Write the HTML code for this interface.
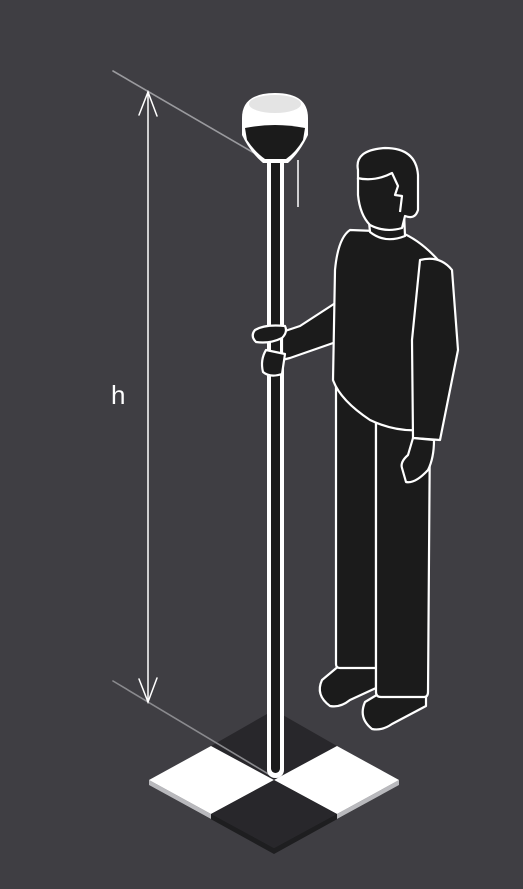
<!DOCTYPE html>
<html><head><meta charset="utf-8"><style>
html,body{margin:0;padding:0;background:#3f3e43;}
svg{display:block}
</style></head><body>
<svg width="523" height="889" viewBox="0 0 523 889" xmlns="http://www.w3.org/2000/svg">
<rect width="523" height="889" fill="#3f3e43"/>
<!-- base checker -->
<g>
<polygon points="149,780 274,848 399,780 399,785 274,854 149,785" fill="#1e1e20"/>
<polygon points="149,780 211,814 211,819 149,785" fill="#b9b9bd"/>
<polygon points="337,814 399,780 399,785 337,819" fill="#b9b9bd"/>
<polygon points="274,710 337,746 274,780 211,746" fill="#28272b"/>
<polygon points="211,746 274,780 211,814 149,780" fill="#ffffff"/>
<polygon points="337,746 399,780 337,814 274,780" fill="#ffffff"/>
<polygon points="274,780 337,814 274,848 211,814" fill="#28272b"/>
</g>
<!-- dimension -->
<g stroke-linecap="round">
<line x1="113" y1="71" x2="266" y2="160" stroke="#9a9a9e" stroke-width="1.6"/>
<line x1="113" y1="681" x2="270" y2="775" stroke="#8a8a8e" stroke-width="1.6"/>
<line x1="148" y1="92" x2="148" y2="702" stroke="#fff" stroke-width="1.5"/>
<polyline points="139,115 148,92 157,116" fill="none" stroke="#fff" stroke-width="1.5"/>
<polyline points="139,679 148,702 157,678" fill="none" stroke="#fff" stroke-width="1.5"/>
</g>
<text x="111" y="404" fill="#fff" font-family="Liberation Sans, sans-serif" font-size="26">h</text>
<!-- pole -->
<g>
<rect x="267" y="150" width="17" height="628" rx="8" fill="#fff"/>
<rect x="271" y="155" width="9" height="618" rx="4.5" fill="#1b1b1b"/>
<line x1="298" y1="160" x2="298" y2="207" stroke="#fff" stroke-width="1.5"/>
</g>
<!-- antenna -->
<g>
<path d="M242,118 Q242,93 275,93 Q308,93 308,118 L308,135 Q300,152 288,163 L263,163 Q250,152 242,135 Z" fill="#fff"/>
<path d="M245,128 Q275,122 305,128 L303,140 Q296,152 286,159 L265,159 Q255,152 247,140 Z" fill="#1b1b1b"/>
<ellipse cx="275" cy="104" rx="26" ry="9" fill="#e4e4e4"/>
</g>
<!-- person -->
<g fill="#1b1b1b" stroke="#fff" stroke-width="2.2" stroke-linejoin="round">
<path d="M340,665 L322,680 Q315,695 330,706 Q340,708 350,700 L376,688 L376,665 Z"/>
<path d="M385,690 L365,702 Q358,718 372,729 Q382,731 392,724 L426,706 L426,690 Z"/>
<path d="M336,380 L336,664 Q336,668 340,668 L376,668 L376,400 Z"/>
<path d="M376,400 L376,692 Q376,697 381,697 L424,697 Q428,697 428,692 L430,420 Z"/>
<path d="M340,300 L300,326 L282,332 L282,360 L290,358 L336,342 Z"/>
<path d="M266,350 Q260,360 263,372 Q270,378 282,374 L285,354 Z"/>
<path d="M255,330 Q265,324 285,326 Q288,332 282,338 Q270,344 256,342 Q250,336 255,330 Z"/>
<path d="M350,230 Q338,238 335,270 L333,380 Q340,400 370,420 Q395,432 420,430 L438,260 Q420,240 400,232 Z"/>
<path d="M420,260 Q440,255 452,270 L458,350 L440,440 L413,438 L412,340 Z"/>
<path d="M413,438 L408,455 Q400,462 402,468 L406,482 Q415,484 428,470 Q434,458 434,440 Z"/>
<path d="M368,212 L370,232 Q385,244 405,236 L404,212 Z"/>
<path d="M358,170 Q354,150 385,148 Q416,148 418,175 L418,210 Q415,220 405,216 L402,228 Q385,233 370,225 Q360,215 358,195 Z"/>
<path d="M357,178 Q375,182 392,173 L398,186 L395,195 L402,196 L400,212" fill="none"/>
</g>
</svg>
</body></html>
